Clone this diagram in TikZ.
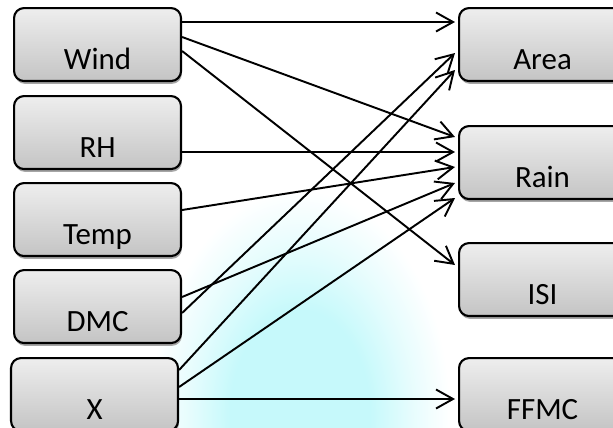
\documentclass[tikz,border=0pt]{standalone}
\usepackage{fontspec}
\setmainfont{Carlito}
\usetikzlibrary{arrows.meta,shadows,calc}
\definecolor{boxtop}{RGB}{238,238,238}
\definecolor{boxbot}{RGB}{196,196,196}
\definecolor{bgcyan}{RGB}{198,249,251}
\pgfdeclareradialshading{cyanblob}{\pgfpointorigin}{color(0bp)=(bgcyan); color(3.5bp)=(bgcyan); color(5.5bp)=(bgcyan!45!white); color(7.5bp)=(white); color(50bp)=(white)}
\tikzset{
  box/.style={draw=black, line width=1.2pt, rounded corners=0.2cm,
    top color=boxtop, bottom color=boxbot,
    minimum width=3.34cm, inner xsep=0pt, inner ysep=0pt,
    text height=1.22cm, text depth=0.24cm,
    font=\fontsize{17.6}{20}\selectfont,
    drop shadow={shadow xshift=0.5pt, shadow yshift=-1.6pt, fill=gray!70, opacity=1}},
  link/.style={line width=1.1pt, -{Straight Barb[length=0.34cm, width=0.38cm, line width=1.1pt]}}
}
\begin{document}
\begin{tikzpicture}[x=0.02cm, y=-0.02cm]
\useasboundingbox (0,0) rectangle (613,427);
\clip (0,0) rectangle (613,427);
\fill[white] (0,0) rectangle (613,427);
\begin{scope}[shift={(300,415)}, yscale=1.5]
  \shade[shading=cyanblob] (0,0) circle (500);
\end{scope}
% left boxes
\node[box, anchor=north west] (wind) at (13,7) {Wind};
\node[box, anchor=north west] (rh) at (13,95) {RH};
\node[box, anchor=north west] (temp) at (13,182) {Temp};
\node[box, anchor=north west] (dmc) at (13,269) {DMC};
\node[box, anchor=north west] (x) at (10,357) {X};
% right boxes
\node[box, anchor=north west] (area) at (458,7) {Area};
\node[box, anchor=north west] (rain) at (458,125) {Rain};
\node[box, anchor=north west] (isi) at (458,242) {ISI};
\node[box, anchor=north west] (ffmc) at (458,357) {FFMC};
% connectors
\draw[link] ($(wind.north east)+(0,15)$) -- ($(area.north west)+(-3,15)$);
\draw[link] ($(wind.north east)+(0,30)$) -- ($(rain.north west)+(-3,12)$);
\draw[link] ($(wind.north east)+(0,44)$) -- ($(isi.north west)+(-3,23)$);
\draw[link] ($(rh.north east)+(0,57)$) -- ($(rain.north west)+(-3,27)$);
\draw[link] ($(temp.north east)+(0,28)$) -- ($(rain.north west)+(-3,42)$);
\draw[link] ($(dmc.north east)+(0,28)$) -- ($(rain.north west)+(-3,58)$);
\draw[link] ($(dmc.north east)+(0,44)$) -- ($(area.north west)+(-3,46)$);
\draw[link] ($(x.north east)+(0,13)$) -- ($(area.north west)+(-3,63)$);
\draw[link] ($(x.north east)+(0,30)$) -- ($(rain.north west)+(-3,73)$);
\draw[link] ($(x.north east)+(0,42)$) -- ($(ffmc.north west)+(-3,42)$);
\end{tikzpicture}
\end{document}
